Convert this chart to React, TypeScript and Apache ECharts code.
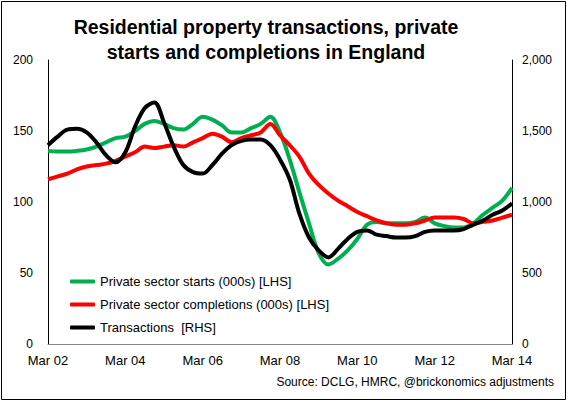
import React, { useEffect, useRef } from "react";
import * as echarts from "echarts";

const categories = [
  "Mar 02", "Jun 02", "Sep 02", "Dec 02",
  "Mar 03", "Jun 03", "Sep 03", "Dec 03",
  "Mar 04", "Jun 04", "Sep 04", "Dec 04",
  "Mar 05", "Jun 05", "Sep 05", "Dec 05",
  "Mar 06", "Jun 06", "Sep 06", "Dec 06",
  "Mar 07", "Jun 07", "Sep 07", "Dec 07",
  "Mar 08", "Jun 08", "Sep 08", "Dec 08",
  "Mar 09", "Jun 09", "Sep 09", "Dec 09",
  "Mar 10", "Jun 10", "Sep 10", "Dec 10",
  "Mar 11", "Jun 11", "Sep 11", "Dec 11",
  "Mar 12", "Jun 12", "Sep 12", "Dec 12",
  "Mar 13", "Jun 13", "Sep 13", "Dec 13",
  "Mar 14",
];

const starts = [
  136, 135.5, 135.5, 136, 137, 139, 142, 145, 146, 150, 155, 157, 155, 152, 151, 155,
  160, 158, 154, 149, 149, 152, 155, 160, 149, 130, 107, 85, 64, 56, 60, 66,
  74, 84, 86, 85, 85, 85, 86, 89, 85, 83, 82, 82, 85, 91, 96, 101, 110,
];

const completions = [
  116, 118, 120, 123, 125, 126, 127, 129, 132, 135, 139, 138, 139, 140, 139, 142,
  145, 148, 146, 142, 145, 147, 149, 155, 147, 140, 132, 120, 112, 106, 101, 97,
  93, 90, 87, 85, 84, 84, 85, 87, 89, 89, 89, 88, 85, 86, 87, 89, 91,
];

const transactions = [
  1400, 1460, 1510, 1515, 1490, 1420, 1330, 1280, 1350, 1530, 1660, 1700, 1560, 1390, 1260, 1210,
  1200, 1260, 1340, 1400, 1430, 1440, 1440, 1400, 1300, 1160, 920, 750, 660, 610, 670, 740,
  790, 800, 770, 760, 750, 750, 760, 790, 800, 800, 800, 810, 840, 870, 910, 940, 990,
];

const seriesNames = [
  "Private sector starts (000s) [LHS]",
  "Private sector completions (000s) [LHS]",
  "Transactions  [RHS]",
];

const titleLines = [
  "Residential property transactions, private",
  "starts and completions in England",
];

const sourceText = "Source: DCLG, HMRC, @brickonomics adjustments";

const FONT = "Liberation Sans, Arial, sans-serif";

export default function App() {
  const ref = useRef<HTMLDivElement>(null);

  useEffect(() => {
    document.body.style.margin = "0";
    if (!ref.current) return;
    const chart = echarts.init(ref.current, undefined, { renderer: "svg" });
    chart.setOption({
      animation: false,
      backgroundColor: "#ffffff",
      textStyle: { fontFamily: FONT },
      title: {
        text: titleLines.join("\n"),
        left: 261,
        textAlign: "center",
        top: 9,
        textStyle: {
          fontFamily: FONT,
          fontSize: 19.5,
          fontWeight: "bold",
          color: "#000",
          lineHeight: 25,
        },
      },
      legend: {
        orient: "vertical",
        left: 65,
        top: 270,
        itemWidth: 25,
        itemHeight: 4,
        itemGap: 10,
        icon: "roundRect",
        data: seriesNames,
        textStyle: { fontFamily: FONT, fontSize: 13, color: "#000" },
      },
      grid: { left: 48, right: 56, top: 60, bottom: 58 },
      xAxis: {
        type: "category",
        data: categories,
        boundaryGap: false,
        axisLine: { show: true, lineStyle: { color: "#868686", width: 1 } },
        axisTick: { show: false },
        axisLabel: {
          interval: 7,
          fontSize: 13,
          color: "#000",
          margin: 10,
          fontFamily: FONT,
        },
        splitLine: { show: false },
      },
      yAxis: [
        {
          type: "value",
          min: 0,
          max: 200,
          interval: 50,
          axisLine: { show: true, lineStyle: { color: "#000", width: 1 } },
          axisTick: { show: false },
          splitLine: { show: false },
          axisLabel: { fontSize: 12, color: "#000", margin: 15, fontFamily: FONT },
        },
        {
          type: "value",
          min: 0,
          max: 2000,
          interval: 500,
          position: "right",
          axisLine: { show: true, lineStyle: { color: "#000", width: 1 } },
          axisTick: { show: false },
          splitLine: { show: false },
          axisLabel: {
            fontSize: 12,
            color: "#000",
            margin: 10,
            fontFamily: FONT,
            formatter: (v: number) => v.toLocaleString("en-US"),
          },
        },
      ],
      series: [
        {
          name: seriesNames[0],
          type: "line",
          data: starts,
          yAxisIndex: 0,
          smooth: 0.35,
          showSymbol: false,
          symbol: "none",
          lineStyle: { color: "#00B050", width: 4 },
          itemStyle: { color: "#00B050" },
        },
        {
          name: seriesNames[1],
          type: "line",
          data: completions,
          yAxisIndex: 0,
          smooth: 0.35,
          showSymbol: false,
          symbol: "none",
          lineStyle: { color: "#FF0000", width: 4 },
          itemStyle: { color: "#FF0000" },
        },
        {
          name: seriesNames[2],
          type: "line",
          data: transactions,
          yAxisIndex: 1,
          smooth: 0.35,
          showSymbol: false,
          symbol: "none",
          lineStyle: { color: "#000000", width: 4 },
          itemStyle: { color: "#000000" },
        },
      ],
      graphic: [
        {
          type: "rect",
          shape: { x: 1.5, y: 1.5, width: 564, height: 398 },
          style: { fill: "none", stroke: "#000", lineWidth: 1 },
          silent: true,
        },
        {
          type: "text",
          right: 14,
          top: 376,
          style: { text: sourceText, fontSize: 12, fontFamily: FONT, fill: "#000" },
        },
      ],
    });
    return () => chart.dispose();
  }, []);

  return <div ref={ref} style={{ width: 568, height: 402 }} />;
}
